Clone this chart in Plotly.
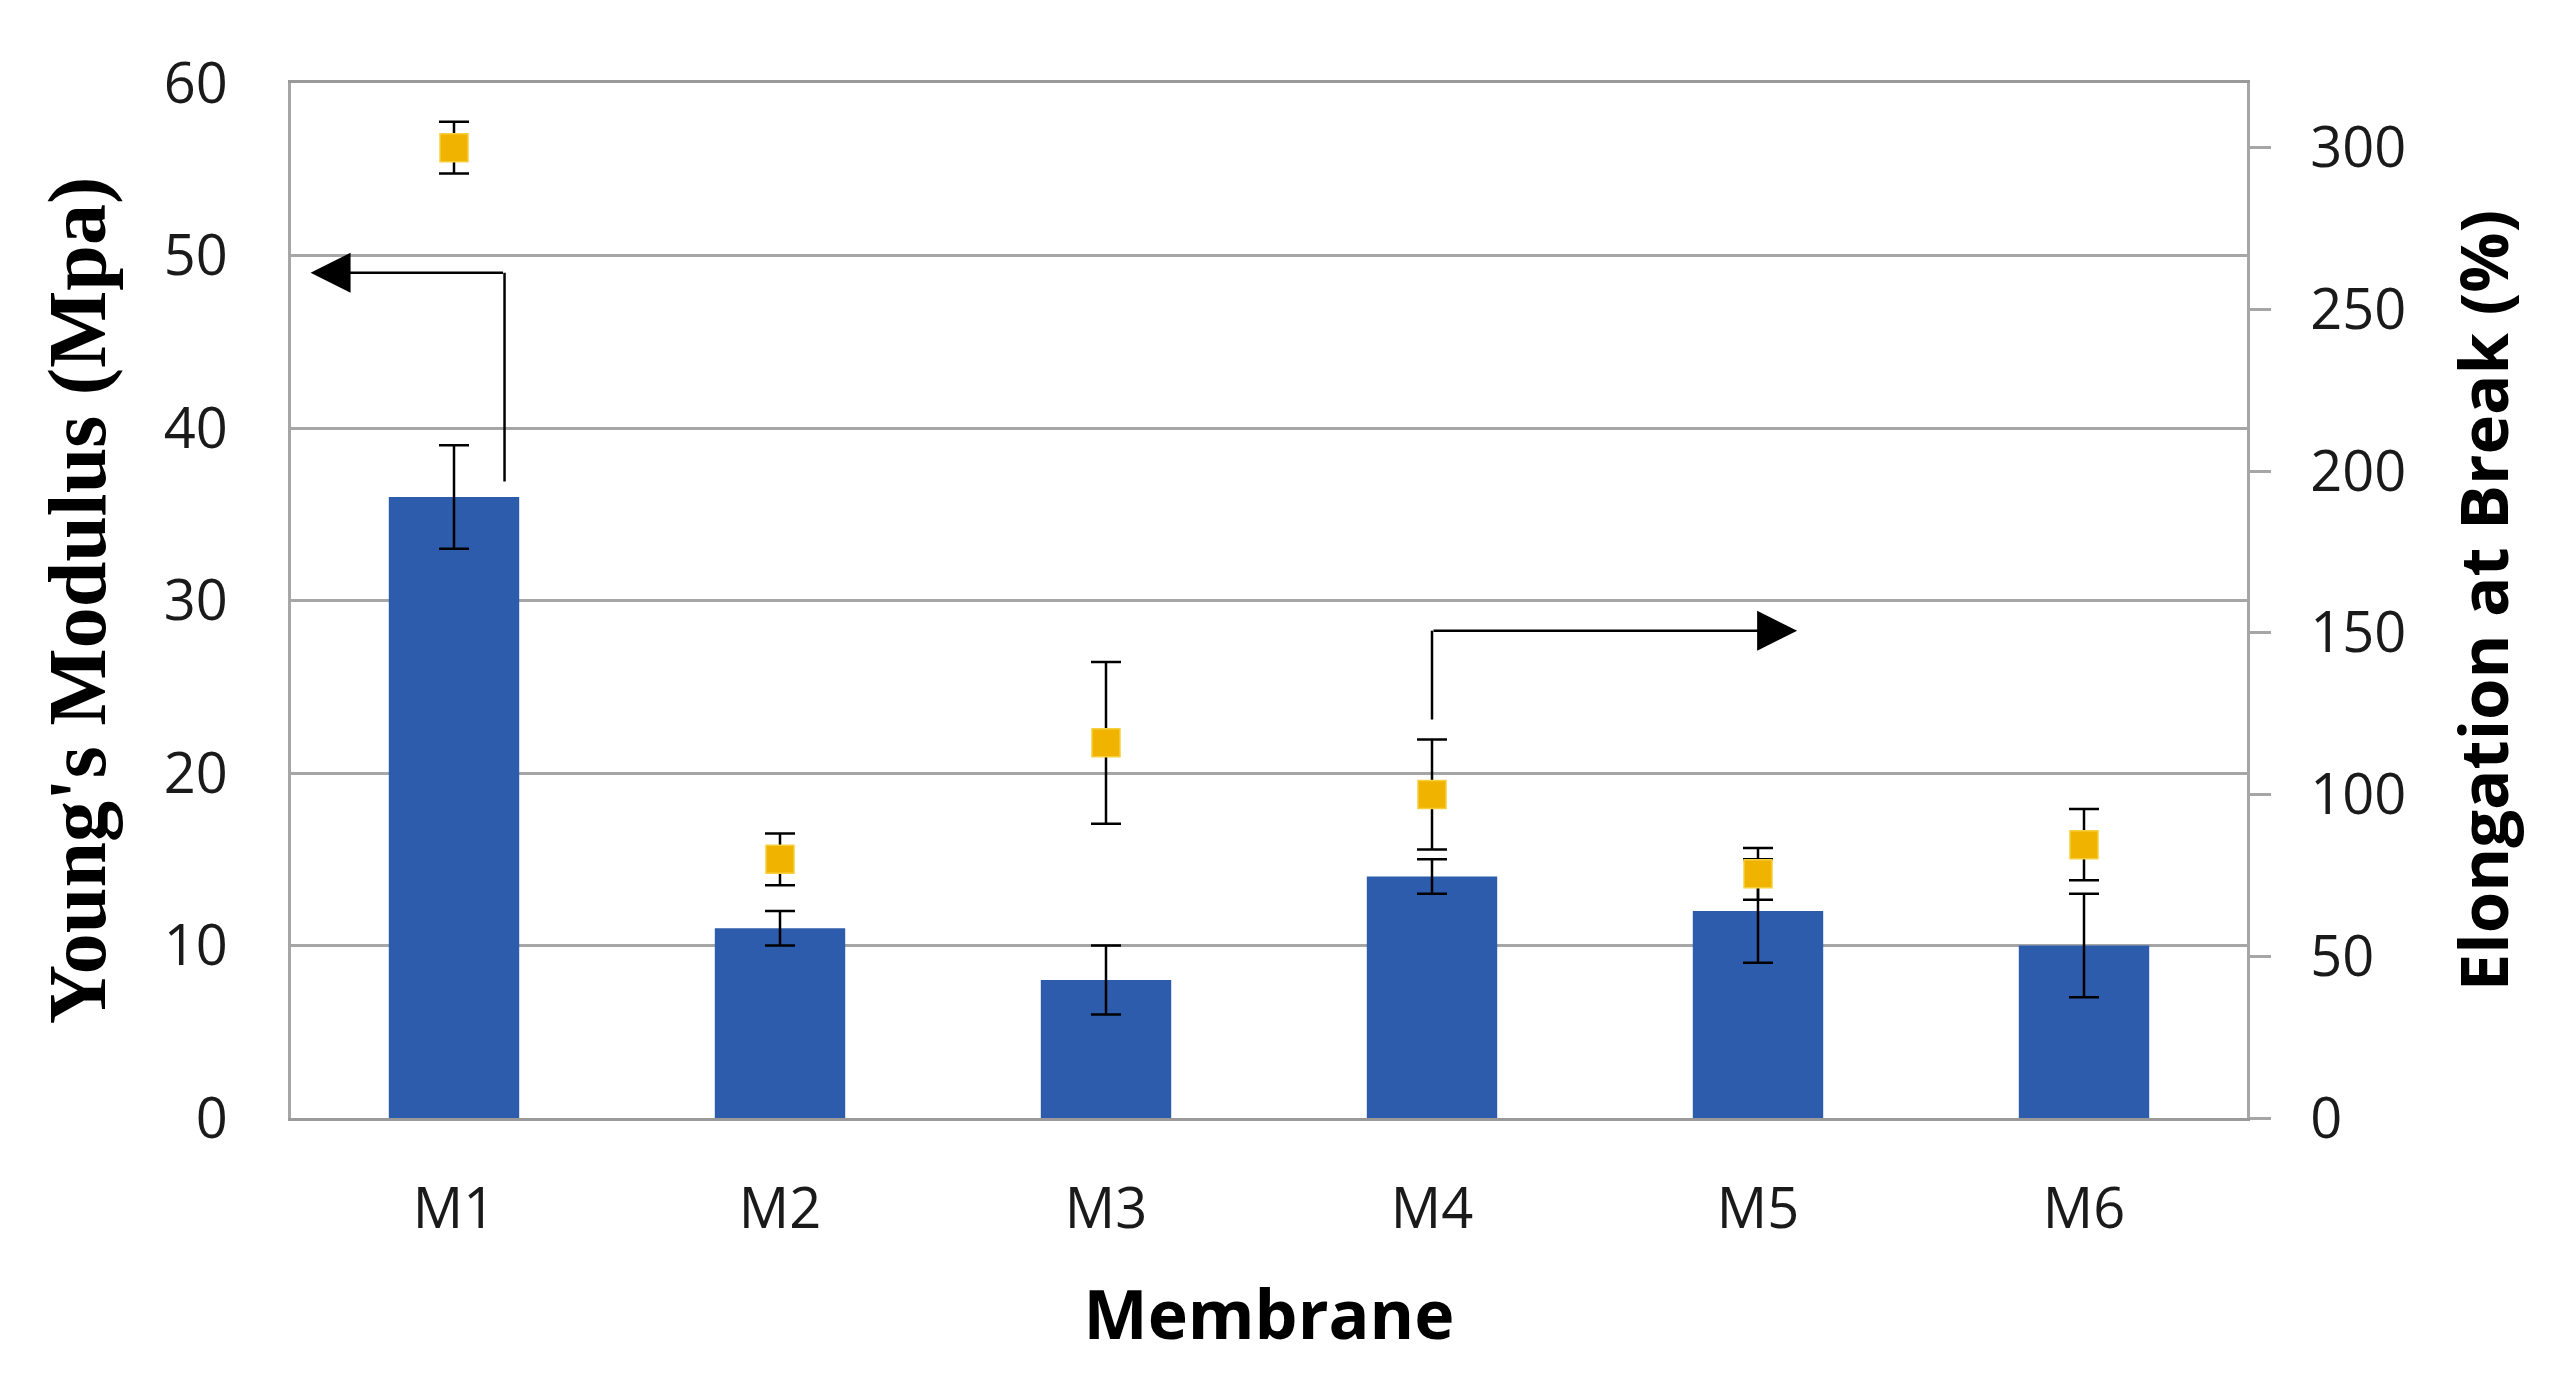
import plotly.graph_objects as go

# ---- data ----
membranes = ["M1", "M2", "M3", "M4", "M5", "M6"]
youngs_modulus = [36, 11, 8, 14, 12, 10]          # MPa (left axis, bars)
youngs_err = [3, 1, 2, 1, 3, 3]
elongation = [300, 80, 116, 100, 75.5, 84.5]      # % (right axis, squares)
elongation_err = [8, 8, 25, 17, 8, 11]
left_ticks = [0, 10, 20, 30, 40, 50, 60]
right_ticks = [0, 50, 100, 150, 200, 250, 300]

W, H = 2562, 1374
GRID = "#a6a6a6"
TICK_FONT = dict(family="Open Sans", size=56, color="#1a1a1a")

fig = go.Figure()

fig.add_trace(go.Bar(
    x=membranes, y=youngs_modulus, width=0.4, yaxis="y",
    marker=dict(color="#2e5cad", line=dict(width=0)),
    error_y=dict(type="data", array=youngs_err, color="black", thickness=2.5, width=15),
    showlegend=False,
))

fig.add_trace(go.Scatter(
    x=membranes, y=elongation, mode="markers", yaxis="y2",
    marker=dict(symbol="square", size=28, color="#f0b400",
                line=dict(color="#f6cf3c", width=1.5)),
    error_y=dict(type="data", array=elongation_err, color="black", thickness=2.5, width=15),
    showlegend=False,
))

# bent arrows (vertical segment as shape, horizontal segment as arrow annotation)
LINE = dict(color="black", width=2.5)
fig.add_shape(type="line", xref="x", yref="y", x0=0.155, x1=0.155, y0=36.9, y1=49, line=LINE)
fig.add_shape(type="line", xref="x", yref="y", x0=3.0, x1=3.0, y0=23.1, y1=28.25, line=LINE)
fig.add_annotation(x=-0.44, y=49, ax=0.155, ay=49, xref="x", yref="y", axref="x", ayref="y",
                   text="", showarrow=True, arrowhead=2, arrowsize=3.2, arrowwidth=2.5,
                   arrowcolor="black", standoff=0)
fig.add_annotation(x=4.12, y=28.25, ax=3.0, ay=28.25, xref="x", yref="y", axref="x", ayref="y",
                   text="", showarrow=True, arrowhead=2, arrowsize=3.2, arrowwidth=2.5,
                   arrowcolor="black", standoff=0)

fig.update_layout(
    width=W, height=H,
    margin=dict(l=283, r=323, t=75, b=264, autoexpand=False),
    paper_bgcolor="white", plot_bgcolor="white",
    xaxis=dict(
        type="category", range=[-0.5, 5.5],
        showline=True, linecolor="#9a9a9a", linewidth=3, mirror=True,
        showgrid=False, ticks="", tickfont=TICK_FONT, ticklabelstandoff=40,
        title=dict(text="<b>Membrane</b>", font=dict(family="Open Sans", size=68, color="black"),
                   standoff=49),
    ),
    yaxis=dict(
        range=[0, 60], tickvals=left_ticks,
        showline=True, linecolor="#a6a6a6", linewidth=3,
        showgrid=True, gridcolor=GRID, gridwidth=3, zeroline=False,
        ticks="", tickfont=TICK_FONT, ticklabelstandoff=49,
        title=dict(text="<b>Young's Modulus (Mpa)</b>",
                   font=dict(family="Liberation Serif", size=82, color="black"), standoff=32),
    ),
    yaxis2=dict(
        range=[0, 320], tickvals=right_ticks, overlaying="y", side="right",
        showline=True, linecolor="#a6a6a6", linewidth=3,
        showgrid=False, zeroline=False,
        ticks="outside", ticklen=21, tickwidth=3, tickcolor="#a6a6a6",
        tickfont=TICK_FONT, ticklabelstandoff=28,
        title=dict(text="<b>Elongation at Break (%)</b>",
                   font=dict(family="Open Sans", size=67, color="black"), standoff=56),
    ),
)

fig.write_html("out.html")
